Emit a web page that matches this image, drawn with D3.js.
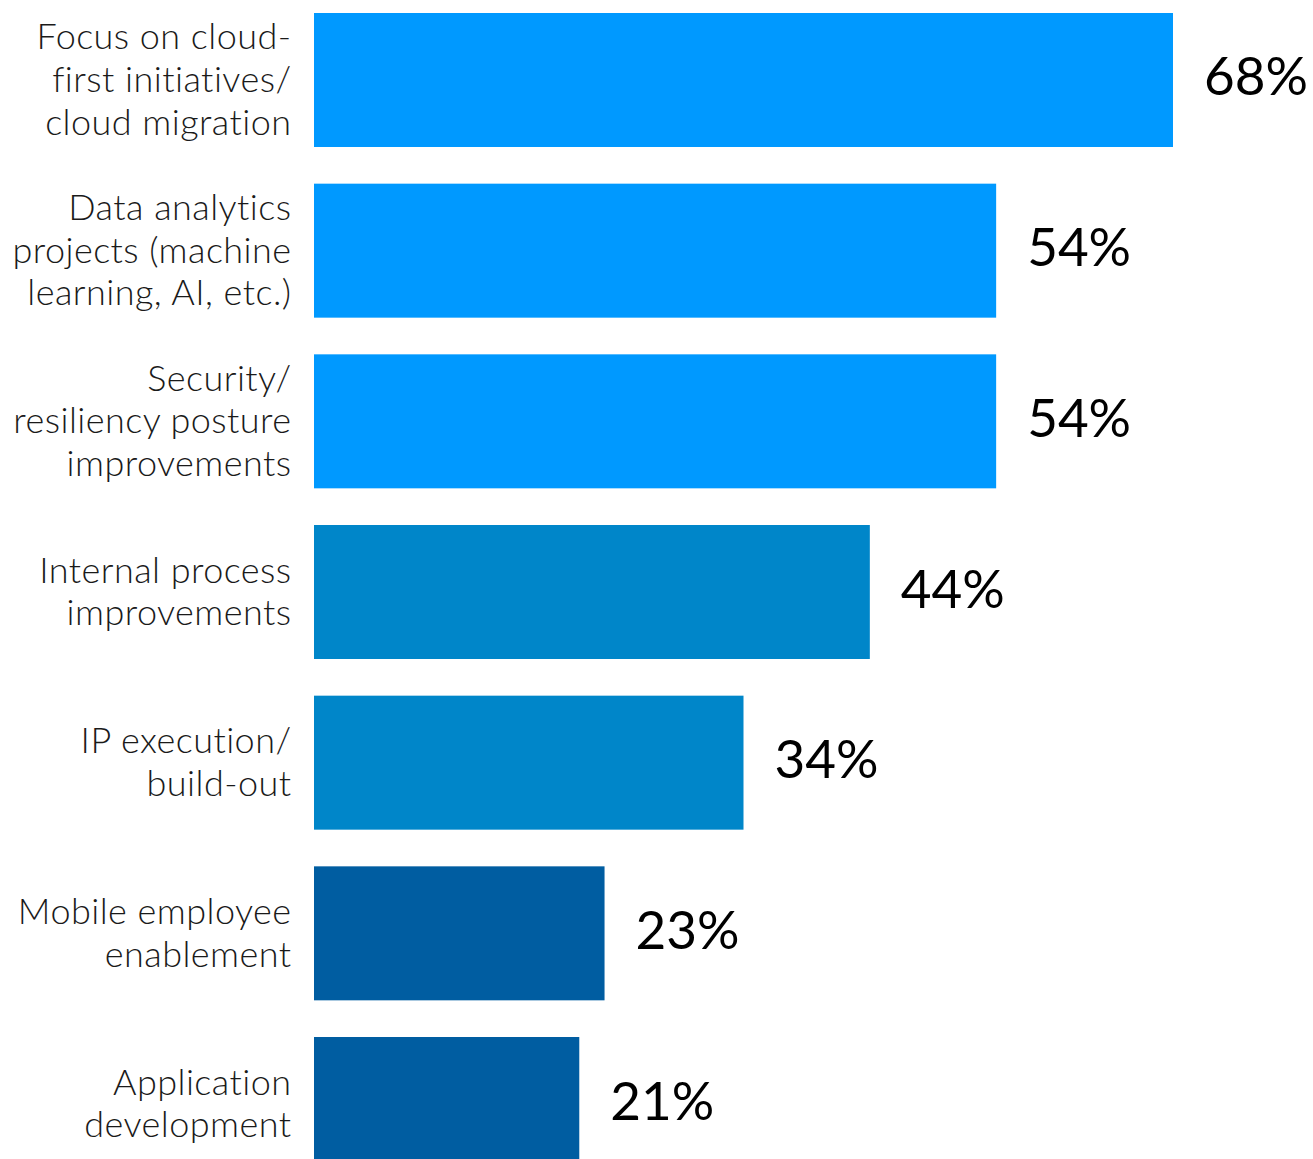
<!DOCTYPE html>
<html>
<head>
<meta charset="utf-8">
<script src="https://cdn.jsdelivr.net/npm/d3@7"></script>
<style>
  html, body { margin: 0; padding: 0; background: #ffffff; }
  svg { display: block; }
</style>
</head>
<body>
<div id="chart"></div>
<script>
// Share of respondents naming each priority
const categories = [
  "Focus on cloud-|first initiatives/|cloud migration",
  "Data analytics|projects (machine|learning, AI, etc.)",
  "Security/|resiliency posture|improvements",
  "Internal process|improvements",
  "IP execution/|build-out",
  "Mobile employee|enablement",
  "Application|development"
];
const values = [68, 54, 54, 44, 34, 23, 21];
const valueLabels = ["68%", "54%", "54%", "44%", "34%", "23%", "21%"];
const tiers = ["high", "high", "high", "mid", "mid", "low", "low"];

const W = 1313, H = 1159;
const tierColor = d3.scaleOrdinal()
  .domain(["high", "mid", "low"])
  .range(["#0099ff", "#0086c9", "#005da1"]);

const svg = d3.select("#chart").append("svg")
  .attr("width", W).attr("height", H)
  .attr("viewBox", `0 0 ${W} ${H}`);

const x = d3.scaleLinear().domain([0, 68]).range([314, 1173]);
const y = d3.scaleBand()
  .domain(d3.range(values.length))
  .range([13, 1171])
  .paddingInner(0.2149)
  .paddingOuter(0);

const rows = svg.selectAll("g.row")
  .data(values.map((v, i) => ({ v, i, label: categories[i], text: valueLabels[i], tier: tiers[i] })))
  .join("g")
  .attr("class", "row");

rows.append("rect")
  .attr("x", x(0))
  .attr("y", d => y(d.i))
  .attr("width", d => x(d.v) - x(0))
  .attr("height", y.bandwidth())
  .attr("fill", d => tierColor(d.tier));

// value labels to the right of each bar
rows.append("text")
  .attr("x", d => x(d.v) + 31)
  .attr("y", d => y(d.i) + y.bandwidth() / 2 + 15.5)
  .attr("font-family", "Lato, 'Open Sans', sans-serif")
  .attr("font-size", 53)
  .attr("fill", "#000")
  .text(d => d.text);

// multi-line category labels, right-aligned against the bars
const lineH = 42.7;
rows.each(function(d) {
  const lines = d.label.split("|");
  const cy = y(d.i) + y.bandwidth() / 2;
  const t = d3.select(this).append("text")
    .attr("text-anchor", "end")
    .attr("font-family", "Lato, 'Open Sans', sans-serif")
    .attr("font-weight", 300)
    .attr("font-size", 36)
    .attr("letter-spacing", 0.45)
    .attr("fill", "#1a1a1a");
  lines.forEach((ln, k) => {
    t.append("tspan")
      .attr("x", 291.5)
      .attr("y", cy + (k - (lines.length - 1) / 2) * lineH + 12)
      .text(ln);
  });
});
</script>
</body>
</html>
